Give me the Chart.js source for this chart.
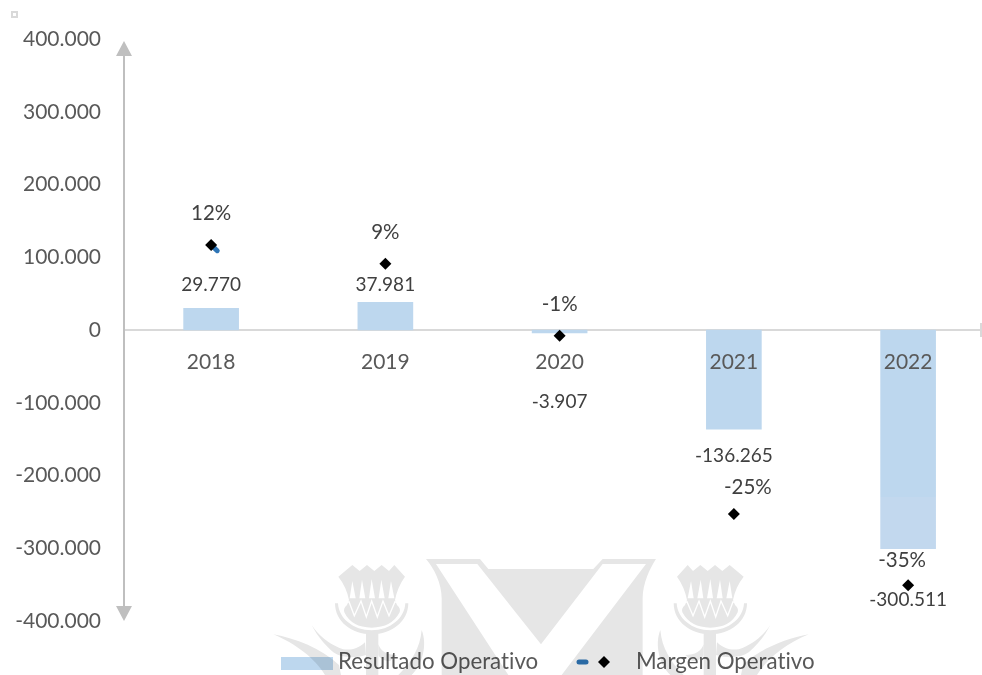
<!DOCTYPE html>
<html><head><meta charset="utf-8">
<style>
html,body{margin:0;padding:0;background:#fff;width:982px;height:675px;overflow:hidden}
#wm{position:absolute;left:0;top:0;filter:blur(0.5px)}
#c{position:absolute;left:0;top:0;mix-blend-mode:multiply}
</style>
<script src="https://cdn.jsdelivr.net/npm/chart.js@4"></script>
</head><body>
<svg id="wm" width="982" height="675" viewBox="0 0 982 675">
<defs>
<g id="th">
<g fill="#e6e6e6">
<path d="M210 145C210 200 260 238 320 238C380 238 430 200 430 145L421 145C419 190 375 226 320 226C265 226 221 190 219 145Z"/>
<path d="M220 65L262 30L284 48L306 30L328 48L350 30L372 48L388 30L420 65Q398 95 390 135L396 150Q408 160 404 172Q380 218 320 218Q260 218 238 172Q234 160 246 150L252 135Q244 95 220 65Z"/>
<path d="M303 232H340V360H303Z"/>
<path d="M25 238C90 250 170 280 222 330L228 360H180C150 310 90 265 25 238Z"/>
<path d="M140 210C160 240 190 265 222 278C240 286 270 290 300 262L303 300C270 310 230 310 205 292C180 270 158 245 140 210Z"/>
<path d="M470 225C488 270 472 330 440 360H400C440 320 465 280 470 225Z"/>
<path d="M340 268C348 290 365 300 395 300L375 318C355 318 345 310 340 300Z"/>
</g>
<g fill="#fff">
<path d="M254 130L262 78L272 130ZM283 130L291 74L301 130ZM312 130L320 72L330 130ZM341 130L349 74L359 130ZM370 130L378 78L388 130Z"/>
</g>
<polyline fill="none" stroke="#fff" stroke-width="4" points="232,150 252,140 268,182 288,138 304,186 320,138 337,186 354,138 372,182 390,140 410,150"/>
</g>
</defs>
<use href="#th" transform="translate(265 555) scale(0.3333)"/>
<use href="#th" transform="translate(817 555) scale(-0.3333 0.3333)"/>
<g transform="translate(420 555) scale(0.3333)">
<path fill="#e6e6e6" d="M18 12H180L205 42H520L548 12H708C690 40 668 85 668 130V360H65V130C65 85 42 40 18 12Z"/>
<path fill="#fff" d="M48 27H172L363 268L548 27H678L425 360H265Z"/>
</g>
</svg>
<canvas id="c" width="982" height="675"></canvas>
<script>
const categories = ['2018','2019','2020','2021','2022'];
const resultado = [29770, 37981, -3907, -136265, -300511];
const margen = [0.117, 0.091, -0.008, -0.253, -0.351];
const margenLabels = ['12%','9%','-1%','-25%','-35%'];
const margenTail = [{x:0,y:0.117},{x:0.035,y:0.109}];
const yTicks = [400000,300000,200000,100000,0,-100000,-200000,-300000,-400000];

const FONT = 'Lato, "Open Sans", sans-serif';
const fmt = v => String(Math.abs(v)).replace(/\B(?=(\d{3})+$)/g,'.');
const signed = v => (v<0?'-':'') + fmt(v);
const BAR = '#bdd7ee', BLUE = '#2e75b6', INK = '#595959', LBL = '#404040';
const barLabelDY = [-23,-17,69,27,51];
const pctLabelD = [[0,-31],[0,-31],[0,-31],[14,-27],[-6,-25]];

function barFill(ctx){
  const c = ctx.chart;
  if (ctx.dataIndex !== 4 || !c.scales.y) return BAR;
  const y = c.scales.y, g = c.ctx.createLinearGradient(0,y.getPixelForValue(0),0,y.getPixelForValue(-300511));
  const t = (-229500)/(-300511);
  g.addColorStop(0,BAR); g.addColorStop(t,BAR); g.addColorStop(t,'#c2d8ee'); g.addColorStop(1,'#c2d8ee');
  return g;
}

const decor = {
  id:'decor',
  afterDatasetsDraw(chart){
    const {ctx,scales:{x,y,y1},chartArea:a} = chart;
    ctx.save();
    ctx.textRendering='optimizeSpeed';
    ctx.strokeStyle='#d9d9d9'; ctx.lineWidth=2; ctx.strokeRect(12,12,5,5);
    const ax = a.left, top=a.top+2, bot=a.bottom;
    ctx.strokeStyle='#bfbfbf'; ctx.fillStyle='#bfbfbf'; ctx.lineWidth=2;
    ctx.beginPath(); ctx.moveTo(ax,top+10); ctx.lineTo(ax,bot-10); ctx.stroke();
    ctx.beginPath(); ctx.moveTo(ax,top); ctx.lineTo(ax+8,top+15); ctx.lineTo(ax-8,top+15); ctx.fill();
    ctx.beginPath(); ctx.moveTo(ax,bot); ctx.lineTo(ax+8,bot-15); ctx.lineTo(ax-8,bot-15); ctx.fill();
    const zy = y.getPixelForValue(0);
    ctx.strokeStyle='#d9d9d9'; ctx.beginPath(); ctx.moveTo(a.right-1,zy-7); ctx.lineTo(a.right-1,zy+7); ctx.stroke();
    ctx.textAlign='center'; ctx.textBaseline='middle';
    ctx.fillStyle=LBL; ctx.font='19px '+FONT;
    resultado.forEach((v,i)=>{
      ctx.fillText(signed(v), x.getPixelForValue(i), y.getPixelForValue(v)+barLabelDY[i]);
    });
    ctx.font='20.5px '+FONT;
    margen.forEach((v,i)=>{
      ctx.fillText(margenLabels[i], x.getPixelForValue(i)+pctLabelD[i][0], y1.getPixelForValue(v)+pctLabelD[i][1]);
    });
    ctx.fillStyle=BAR; ctx.fillRect(281,657,52,13);
    ctx.textAlign='left'; ctx.fillStyle=INK; ctx.font='22.3px '+FONT;
    ctx.fillText('Resultado Operativo',338,662);
    ctx.fillText('Margen Operativo',636,662);
    ctx.strokeStyle=BLUE; ctx.lineWidth=5; ctx.lineCap='round';
    ctx.beginPath(); ctx.moveTo(579,662); ctx.lineTo(586,662); ctx.stroke();
    ctx.fillStyle='#000';
    ctx.beginPath(); ctx.moveTo(604,656); ctx.lineTo(610,662); ctx.lineTo(604,668); ctx.lineTo(598,662); ctx.fill();
    ctx.restore();
  }
};

new Chart(document.getElementById('c'),{
  data:{
    labels:categories,
    datasets:[
      {type:'line',label:'Margen Operativo',data:margen.map((v,i)=>({x:i,y:v})),yAxisID:'y1',xAxisID:'x',
       showLine:false,pointStyle:'rectRot',pointRadius:6,pointHoverRadius:6,pointBackgroundColor:'#000',pointBorderColor:'#000',pointBorderWidth:0,order:1},
      {type:'line',label:'Margen Operativo (línea)',data:margenTail,yAxisID:'y1',xAxisID:'x',
       borderColor:BLUE,borderWidth:5,borderCapStyle:'round',pointRadius:0,order:2},
      {type:'bar',label:'Resultado Operativo',data:resultado.map((v,i)=>({x:i,y:v})),yAxisID:'y',xAxisID:'x',
       backgroundColor:barFill,barThickness:55,order:3}
    ]
  },
  options:{
    responsive:false,animation:false,
    layout:{autoPadding:false,padding:{left:0,right:0,top:39,bottom:54}},
    plugins:{legend:{display:false},tooltip:{enabled:false}},
    scales:{
      x:{type:'linear',offset:false,min:-0.5,max:4.424,position:{y:0},
         afterBuildTicks(s){s.ticks=categories.map((_,i)=>({value:i}));},
         afterFit(s){s.paddingLeft=0;s.paddingRight=0;},
         grid:{display:false,drawTicks:false,offset:false},
         border:{display:true,color:'#d9d9d9',width:2},
         ticks:{z:1,maxRotation:0,autoSkip:false,padding:20,color:INK,font:{family:FONT,size:21},callback:v=>categories[v]}},
      y:{min:-400000,max:400000,position:'left',
         afterFit(s){s.width=124;},
         grid:{display:false,drawTicks:false},border:{display:false},
         afterBuildTicks(s){s.ticks=yTicks.map(v=>({value:v}));},
         ticks:{padding:23,color:INK,font:{family:FONT,size:21},callback:v=>signed(v)}},
      y1:{min:-0.4,max:0.4,display:false}
    }
  },
  plugins:[decor]
});
</script>
</body></html>
